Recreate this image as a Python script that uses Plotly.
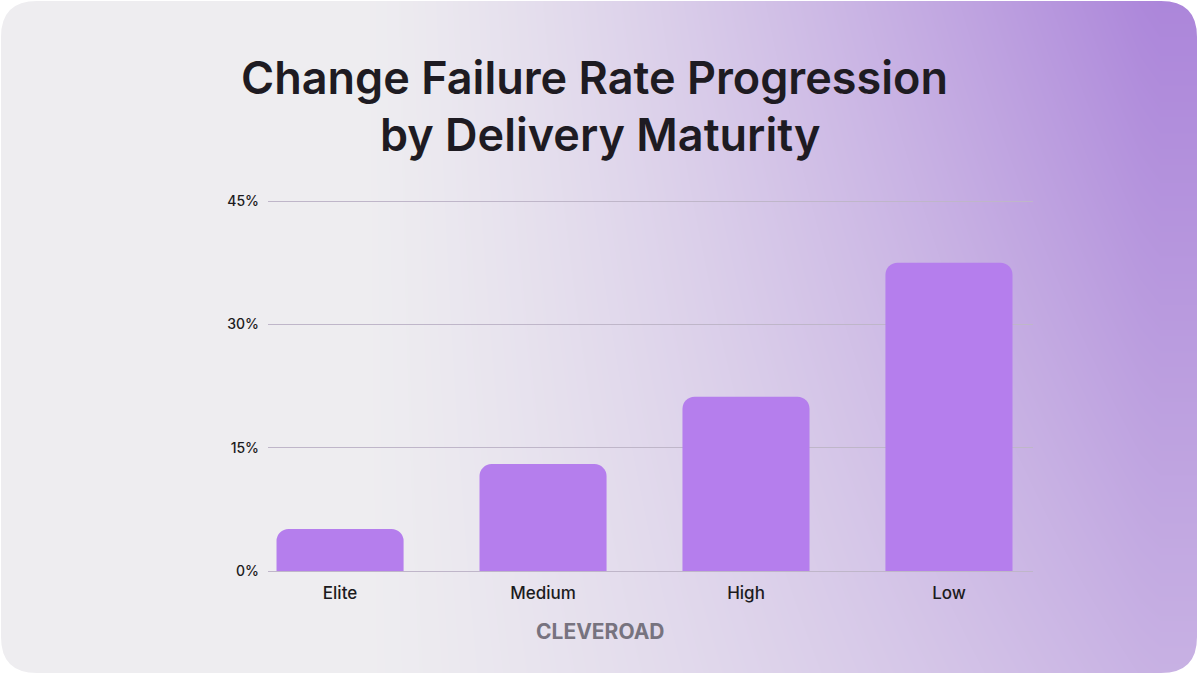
import numpy as np
import plotly.graph_objects as go

# ---- data ----
categories = ["Elite", "Medium", "High", "Low"]
failure_rate = [5.1, 13.0, 21.2, 37.5]
y_ticks = [0, 15, 30, 45]
y_tick_labels = ["0%", "15%", "30%", "45%"]
title_line1 = "Change Failure Rate Progression"
title_line2 = "by Delivery Maturity"
brand = "CLEVEROAD"

W, H = 1200, 675
FONT = "Inter, Lato, sans-serif"

# ---- background gradient (style only) ----
gx = np.linspace(0, W, 61)
gy = np.linspace(0, H, 35)
U, V = np.meshgrid(gx / W, gy / H)
g = np.clip((U - 0.3) / 0.66, 0, 1) ** 1.25
t = g * (1 - 0.42 * V)

fig = go.Figure()
fig.add_trace(go.Heatmap(
    x=gx, y=gy, z=t, zmin=0, zmax=1, zsmooth="best",
    colorscale=[[0, "#EEEDF0"], [1, "#AC86DA"]],
    showscale=False, hoverinfo="skip", xaxis="x", yaxis="y",
))

xpos = list(range(len(categories)))
fig.add_trace(go.Bar(
    x=xpos, y=failure_rate, width=0.626,
    marker=dict(color="#B57EED", cornerradius=12, line=dict(width=0)),
    xaxis="x2", yaxis="y2", hoverinfo="skip",
))

# rounded card mask
r = 36
x0, x1, y0, y1 = 1, 1197, 1, 673
inner = (f"M{x0+r},{y0} L{x1-r},{y0} Q{x1},{y0} {x1},{y0+r} L{x1},{y1-r} Q{x1},{y1} {x1-r},{y1} "
         f"L{x0+r},{y1} Q{x0},{y1} {x0},{y1-r} L{x0},{y0+r} Q{x0},{y0} {x0+r},{y0} Z")
outer = f"M-5,-5 L{W+5},-5 L{W+5},{H+5} L-5,{H+5} Z "
fig.add_shape(type="path", path=outer + inner, xref="x", yref="y",
              fillcolor="white", line=dict(width=0), layer="above", fillrule="evenodd")

# y mapping: 0 -> 571px, 45 -> 201px
ppu = (571 - 201) / 45.0
ylo, yhi = -0.3, 45.3
ybot_px = 571 + (0 - ylo) * ppu
ytop_px = 201 - (yhi - 45) * ppu

fig.update_layout(
    width=W, height=H, autosize=False,
    margin=dict(l=0, r=0, t=0, b=0, pad=0, autoexpand=False),
    paper_bgcolor="white", plot_bgcolor="rgba(0,0,0,0)",
    showlegend=False,
    xaxis=dict(domain=[0, 1], range=[0, W], visible=False, fixedrange=True, automargin=False),
    yaxis=dict(domain=[0, 1], range=[H, 0], visible=False, fixedrange=True, automargin=False),
    xaxis2=dict(domain=[268 / W, 1033 / W], range=[-0.355, 3.414], anchor="y2",
                tickvals=xpos, ticktext=categories, showgrid=False, zeroline=False,
                showline=False, ticks="", ticklabelstandoff=8, automargin=False,
                tickfont=dict(family=FONT, size=17, color="#1C1B20", weight=500)),
    yaxis2=dict(domain=[1 - ybot_px / H, 1 - ytop_px / H], range=[ylo, yhi], anchor="x2",
                tickvals=y_ticks, ticktext=y_tick_labels, showgrid=True,
                gridcolor="#BFB6C9", gridwidth=1, zeroline=False, showline=False,
                ticks="", ticklabelstandoff=8, automargin=False,
                tickfont=dict(family=FONT, size=14, color="#1C1B20", weight=500)),
    annotations=[
        dict(text=title_line1, x=594 / W, y=1 - 77 / H, xref="paper", yref="paper",
             showarrow=False, xanchor="center", yanchor="middle",
             font=dict(family=FONT, size=45, color="#1E1B22", weight=600)),
        dict(text=title_line2, x=600 / W, y=1 - 135 / H, xref="paper", yref="paper",
             showarrow=False, xanchor="center", yanchor="middle",
             font=dict(family=FONT, size=45, color="#1E1B22", weight=600)),
        dict(text=brand, x=600 / W, y=1 - 631 / H, xref="paper", yref="paper",
             showarrow=False, xanchor="center", yanchor="middle",
             font=dict(family=FONT, size=21, color="#77737F", weight=700)),
    ],
)

fig.write_html("out.html")
